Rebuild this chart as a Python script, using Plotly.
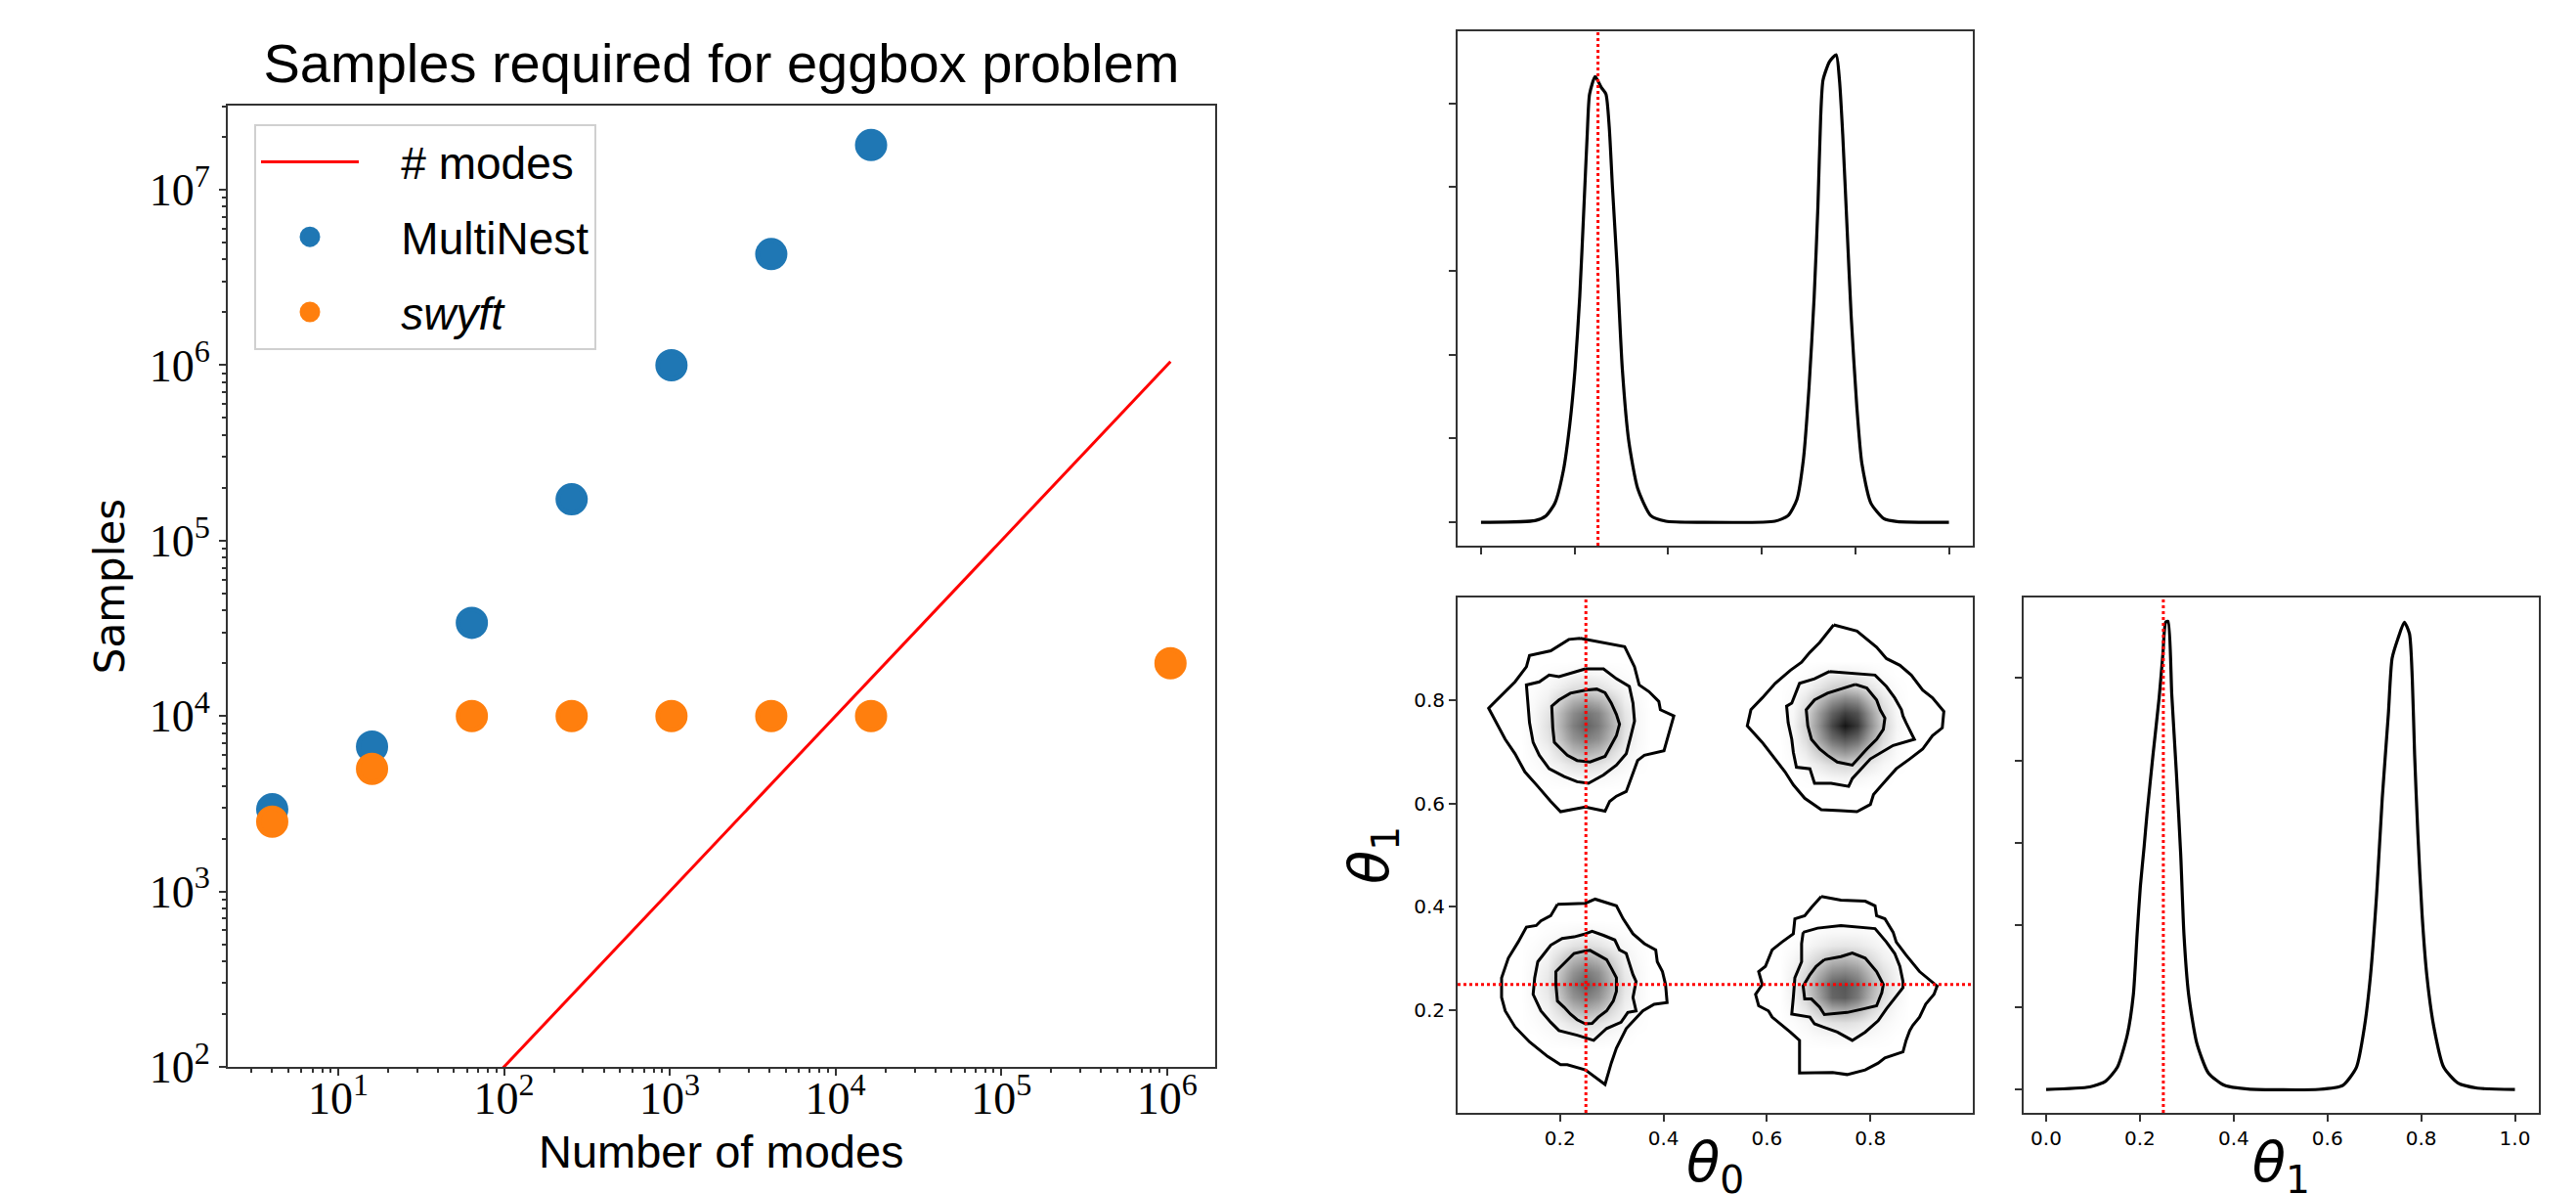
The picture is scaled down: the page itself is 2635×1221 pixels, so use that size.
import numpy as np
import plotly.graph_objects as go

# ---------------- left panel data ----------------
modes = [4, 16, 64, 256, 1024, 4096, 16384, 1048576]
multinest = [2940, 6700, 34000, 172000, 1000000, 4300000, 18000000]
swyft = [2500, 5000, 10000, 10000, 10000, 10000, 10000, 20000]
n_modes_line = [4, 16, 64, 256, 1024, 4096, 16384, 1048576]

y_tick_vals = [1e2, 1e3, 1e4, 1e5, 1e6, 1e7]
y_tick_text = ["10<sup>2</sup>", "10<sup>3</sup>", "10<sup>4</sup>", "10<sup>5</sup>", "10<sup>6</sup>", "10<sup>7</sup>"]
x_tick_vals = [1e1, 1e2, 1e3, 1e4, 1e5, 1e6]
x_tick_text = ["10<sup>1</sup>", "10<sup>2</sup>", "10<sup>3</sup>", "10<sup>4</sup>", "10<sup>5</sup>", "10<sup>6</sup>"]

# ---------------- corner plot data ----------------
truth = [0.25, 0.25]

theta0_x = [0.0, 0.1156, 0.139, 0.158, 0.176, 0.190, 0.201, 0.211, 0.220, 0.227, 0.232, 0.244, 0.257, 0.267,
            0.274, 0.281, 0.291, 0.302, 0.316, 0.335, 0.363, 0.395, 0.47, 0.628, 0.656, 0.675, 0.689, 0.701,
            0.712, 0.720, 0.726, 0.731, 0.745, 0.759, 0.766, 0.773, 0.782, 0.791, 0.803, 0.814, 0.833, 0.861,
            0.889, 1.0]
theta0_y = [0.0, 0.02, 0.078, 0.229, 0.617, 1.18, 1.83, 2.69, 3.77, 4.63, 5.11, 5.32, 5.19, 5.11,
            4.72, 3.99, 3.04, 1.83, 0.96, 0.40, 0.078, 0.013, 0.0, 0.013, 0.078, 0.27, 0.75, 1.61,
            2.69, 3.77, 4.85, 5.28, 5.50, 5.58, 5.28, 4.63, 3.55, 2.47, 1.39, 0.70, 0.23, 0.043,
            0.009, 0.0]

theta1_x = [0.0, 0.093, 0.127, 0.152, 0.173, 0.186, 0.194, 0.201, 0.209, 0.215, 0.228, 0.241, 0.249, 0.255,
            0.260, 0.268, 0.278, 0.287, 0.294, 0.304, 0.321, 0.346, 0.380, 0.430, 0.582, 0.633, 0.662, 0.679,
            0.692, 0.705, 0.717, 0.730, 0.738, 0.751, 0.764, 0.775, 0.781, 0.786, 0.793, 0.802, 0.812, 0.827,
            0.848, 0.878, 0.920, 1.0]
theta1_y = [0.0, 0.03, 0.10, 0.27, 0.66, 1.15, 1.88, 2.47, 2.95, 3.34, 4.07, 4.76, 5.29, 5.68,
            5.69, 4.80, 3.83, 2.86, 1.88, 1.15, 0.57, 0.20, 0.05, 0.005, 0.0, 0.05, 0.27, 0.76,
            1.39, 2.37, 3.54, 4.56, 5.24, 5.49, 5.68, 5.54, 5.0, 4.07, 3.10, 2.12, 1.39, 0.76,
            0.27, 0.08, 0.015, 0.0]

# density patches (9x9, rows from high theta1 to low, step 0.025) around each mode
blob_centers = [(0.25, 0.75), (0.75, 0.75), (0.25, 0.25), (0.75, 0.25)]
patch_tl = [
    [0, 0.01, 0.02, 0.03, 0.04, 0.03, 0.02, 0.01, 0],
    [0.01, 0.03, 0.07, 0.12, 0.14, 0.12, 0.07, 0.03, 0.01],
    [0.02, 0.06, 0.18, 0.30, 0.35, 0.30, 0.18, 0.06, 0.02],
    [0.03, 0.10, 0.28, 0.45, 0.55, 0.48, 0.28, 0.10, 0.03],
    [0.03, 0.12, 0.30, 0.50, 0.62, 0.52, 0.32, 0.12, 0.03],
    [0.03, 0.10, 0.25, 0.42, 0.50, 0.44, 0.27, 0.10, 0.03],
    [0.02, 0.05, 0.14, 0.27, 0.32, 0.27, 0.14, 0.05, 0.02],
    [0.01, 0.03, 0.06, 0.11, 0.13, 0.11, 0.06, 0.03, 0.01],
    [0, 0.01, 0.02, 0.03, 0.04, 0.03, 0.02, 0.01, 0]]
patch_tr = [
    [0, 0.01, 0.03, 0.05, 0.06, 0.05, 0.03, 0.01, 0],
    [0.01, 0.04, 0.10, 0.18, 0.22, 0.18, 0.10, 0.04, 0.01],
    [0.02, 0.10, 0.25, 0.42, 0.50, 0.45, 0.25, 0.10, 0.02],
    [0.03, 0.15, 0.38, 0.62, 0.75, 0.68, 0.40, 0.15, 0.03],
    [0.04, 0.18, 0.42, 0.72, 0.92, 0.78, 0.45, 0.18, 0.04],
    [0.03, 0.14, 0.35, 0.58, 0.68, 0.60, 0.35, 0.14, 0.03],
    [0.02, 0.08, 0.20, 0.35, 0.42, 0.35, 0.20, 0.08, 0.02],
    [0.01, 0.03, 0.08, 0.14, 0.16, 0.14, 0.08, 0.03, 0.01],
    [0, 0.01, 0.02, 0.04, 0.05, 0.04, 0.02, 0.01, 0]]
patch_bl = [
    [0, 0.01, 0.02, 0.03, 0.04, 0.03, 0.02, 0.01, 0],
    [0.01, 0.03, 0.06, 0.11, 0.13, 0.11, 0.06, 0.03, 0.01],
    [0.02, 0.05, 0.16, 0.28, 0.34, 0.28, 0.16, 0.05, 0.02],
    [0.03, 0.08, 0.24, 0.42, 0.52, 0.44, 0.24, 0.08, 0.03],
    [0.03, 0.10, 0.29, 0.50, 0.62, 0.50, 0.29, 0.10, 0.03],
    [0.03, 0.08, 0.24, 0.42, 0.50, 0.42, 0.24, 0.08, 0.03],
    [0.02, 0.05, 0.14, 0.26, 0.32, 0.26, 0.14, 0.05, 0.02],
    [0.01, 0.03, 0.06, 0.11, 0.13, 0.11, 0.06, 0.03, 0.01],
    [0, 0.01, 0.02, 0.03, 0.04, 0.03, 0.02, 0.01, 0]]
patch_br = [
    [0, 0.01, 0.02, 0.03, 0.03, 0.03, 0.02, 0.01, 0],
    [0.01, 0.03, 0.06, 0.09, 0.10, 0.09, 0.06, 0.03, 0.01],
    [0.03, 0.08, 0.16, 0.26, 0.28, 0.24, 0.14, 0.06, 0.02],
    [0.05, 0.14, 0.30, 0.45, 0.48, 0.42, 0.26, 0.12, 0.04],
    [0.06, 0.18, 0.40, 0.62, 0.66, 0.55, 0.34, 0.15, 0.05],
    [0.05, 0.16, 0.36, 0.60, 0.64, 0.52, 0.30, 0.13, 0.04],
    [0.03, 0.09, 0.20, 0.32, 0.34, 0.28, 0.16, 0.07, 0.02],
    [0.01, 0.03, 0.07, 0.11, 0.12, 0.10, 0.06, 0.03, 0.01],
    [0, 0.01, 0.02, 0.03, 0.03, 0.03, 0.02, 0.01, 0]]
patches = [patch_tl, patch_tr, patch_bl, patch_br]

# contour polygons (theta0, theta1), three levels per mode
tl_outer_x = [0.239, 0.325, 0.344, 0.353, 0.372, 0.391, 0.394, 0.420, 0.401, 0.363, 0.350, 0.328, 0.309, 0.296, 0.287, 0.249, 0.201, 0.182, 0.157, 0.132, 0.113, 0.094, 0.062, 0.094, 0.113, 0.135, 0.141, 0.182, 0.217]
tl_outer_y = [0.919, 0.903, 0.864, 0.829, 0.816, 0.797, 0.781, 0.769, 0.702, 0.693, 0.683, 0.623, 0.614, 0.604, 0.585, 0.593, 0.584, 0.604, 0.633, 0.661, 0.696, 0.724, 0.784, 0.816, 0.835, 0.864, 0.886, 0.895, 0.917]
tl_mid_x = [0.249, 0.284, 0.309, 0.334, 0.341, 0.344, 0.337, 0.328, 0.309, 0.284, 0.255, 0.233, 0.208, 0.179, 0.160, 0.148, 0.141, 0.138, 0.135, 0.160, 0.179, 0.198, 0.220]
tl_mid_y = [0.860, 0.860, 0.841, 0.826, 0.794, 0.759, 0.731, 0.696, 0.674, 0.655, 0.639, 0.642, 0.652, 0.667, 0.693, 0.718, 0.756, 0.794, 0.829, 0.835, 0.848, 0.845, 0.851]
tl_in_x = [0.249, 0.271, 0.287, 0.299, 0.309, 0.315, 0.309, 0.299, 0.287, 0.258, 0.233, 0.214, 0.201, 0.189, 0.186, 0.184, 0.198, 0.220]
tl_in_y = [0.819, 0.821, 0.814, 0.794, 0.772, 0.753, 0.731, 0.712, 0.691, 0.680, 0.683, 0.693, 0.705, 0.718, 0.746, 0.788, 0.800, 0.813]

tr_outer_x = [0.729, 0.774, 0.812, 0.831, 0.857, 0.879, 0.901, 0.920, 0.942, 0.939, 0.920, 0.901, 0.876, 0.850, 0.825, 0.806, 0.800, 0.774, 0.743, 0.705, 0.673, 0.651, 0.635, 0.616, 0.591, 0.562, 0.569, 0.591, 0.616, 0.645, 0.667, 0.683, 0.702]
tr_outer_y = [0.945, 0.933, 0.902, 0.880, 0.867, 0.848, 0.819, 0.804, 0.778, 0.746, 0.731, 0.705, 0.686, 0.667, 0.639, 0.617, 0.598, 0.584, 0.586, 0.588, 0.610, 0.636, 0.661, 0.686, 0.718, 0.750, 0.781, 0.804, 0.832, 0.857, 0.873, 0.892, 0.911]
tr_mid_x = [0.721, 0.765, 0.809, 0.831, 0.847, 0.860, 0.863, 0.869, 0.885, 0.844, 0.800, 0.765, 0.758, 0.724, 0.692, 0.683, 0.657, 0.651, 0.648, 0.641, 0.638, 0.648, 0.663, 0.692]
tr_mid_y = [0.855, 0.852, 0.848, 0.826, 0.804, 0.781, 0.769, 0.756, 0.724, 0.712, 0.686, 0.648, 0.633, 0.639, 0.639, 0.667, 0.670, 0.699, 0.724, 0.756, 0.788, 0.794, 0.832, 0.841]
tr_in_x = [0.771, 0.793, 0.812, 0.819, 0.828, 0.825, 0.812, 0.793, 0.765, 0.736, 0.717, 0.702, 0.686, 0.679, 0.676, 0.692, 0.717, 0.749]
tr_in_y = [0.830, 0.823, 0.800, 0.781, 0.765, 0.743, 0.724, 0.705, 0.674, 0.680, 0.693, 0.705, 0.724, 0.750, 0.781, 0.800, 0.813, 0.823]

bl_outer_x = [0.195, 0.249, 0.268, 0.309, 0.322, 0.341, 0.363, 0.385, 0.388, 0.398, 0.404, 0.407, 0.382, 0.360, 0.328, 0.309, 0.299, 0.287, 0.249, 0.214, 0.201, 0.176, 0.141, 0.113, 0.094, 0.087, 0.087, 0.100, 0.119, 0.135, 0.154, 0.163, 0.182, 0.192]
bl_outer_y = [0.405, 0.407, 0.415, 0.402, 0.377, 0.348, 0.329, 0.317, 0.294, 0.275, 0.250, 0.215, 0.212, 0.199, 0.165, 0.127, 0.098, 0.057, 0.085, 0.095, 0.095, 0.111, 0.139, 0.168, 0.199, 0.225, 0.263, 0.301, 0.332, 0.361, 0.364, 0.373, 0.383, 0.402]
bl_mid_x = [0.249, 0.262, 0.284, 0.306, 0.315, 0.328, 0.334, 0.341, 0.347, 0.344, 0.341, 0.347, 0.331, 0.318, 0.290, 0.265, 0.233, 0.198, 0.182, 0.163, 0.148, 0.151, 0.157, 0.182, 0.204, 0.227]
bl_mid_y = [0.348, 0.353, 0.345, 0.336, 0.317, 0.310, 0.291, 0.269, 0.256, 0.241, 0.225, 0.199, 0.196, 0.177, 0.165, 0.142, 0.152, 0.161, 0.177, 0.199, 0.231, 0.263, 0.294, 0.326, 0.339, 0.342]
bl_in_x = [0.249, 0.258, 0.274, 0.290, 0.299, 0.309, 0.309, 0.303, 0.290, 0.274, 0.262, 0.249, 0.233, 0.220, 0.208, 0.195, 0.192, 0.192, 0.211, 0.227]
bl_in_y = [0.315, 0.316, 0.307, 0.298, 0.282, 0.263, 0.237, 0.218, 0.199, 0.187, 0.175, 0.174, 0.182, 0.193, 0.206, 0.218, 0.250, 0.275, 0.294, 0.310]

br_outer_x = [0.705, 0.743, 0.790, 0.809, 0.812, 0.828, 0.844, 0.850, 0.869, 0.895, 0.929, 0.923, 0.907, 0.895, 0.882, 0.876, 0.869, 0.863, 0.828, 0.815, 0.790, 0.755, 0.727, 0.663, 0.663, 0.645, 0.610, 0.603, 0.584, 0.578, 0.591, 0.584, 0.597, 0.610, 0.629, 0.651, 0.654, 0.673, 0.686]
br_outer_y = [0.420, 0.413, 0.411, 0.402, 0.383, 0.377, 0.351, 0.332, 0.307, 0.275, 0.247, 0.231, 0.212, 0.187, 0.171, 0.161, 0.142, 0.120, 0.108, 0.098, 0.085, 0.076, 0.080, 0.079, 0.142, 0.158, 0.187, 0.199, 0.209, 0.231, 0.250, 0.275, 0.285, 0.317, 0.332, 0.348, 0.377, 0.383, 0.399]
br_mid_x = [0.670, 0.698, 0.743, 0.809, 0.831, 0.847, 0.857, 0.863, 0.863, 0.850, 0.831, 0.815, 0.790, 0.765, 0.736, 0.708, 0.692, 0.683, 0.648, 0.651, 0.654, 0.667, 0.667]
br_mid_y = [0.351, 0.359, 0.364, 0.358, 0.332, 0.310, 0.285, 0.256, 0.244, 0.228, 0.203, 0.180, 0.158, 0.142, 0.158, 0.168, 0.174, 0.187, 0.193, 0.225, 0.263, 0.294, 0.329]
br_in_x = [0.711, 0.743, 0.765, 0.790, 0.812, 0.825, 0.822, 0.812, 0.787, 0.755, 0.711, 0.702, 0.686, 0.673, 0.670, 0.683, 0.695]
br_in_y = [0.298, 0.304, 0.311, 0.301, 0.275, 0.250, 0.234, 0.209, 0.203, 0.196, 0.192, 0.206, 0.222, 0.222, 0.247, 0.269, 0.285]

contours = [
    (tl_outer_x, tl_outer_y), (tl_mid_x, tl_mid_y), (tl_in_x, tl_in_y),
    (tr_outer_x, tr_outer_y), (tr_mid_x, tr_mid_y), (tr_in_x, tr_in_y),
    (bl_outer_x, bl_outer_y), (bl_mid_x, bl_mid_y), (bl_in_x, bl_in_y),
    (br_outer_x, br_outer_y), (br_mid_x, br_mid_y), (br_in_x, br_in_y),
]

# ---------------- build density grid ----------------
step = 0.025
grid = np.round(np.arange(0, 41) * step, 4)
z = np.zeros((41, 41))
for (cx, cy), patch in zip(blob_centers, patches):
    ci = int(round(cx / step))
    cj = int(round(cy / step))
    for r, row in enumerate(patch):
        for c, v in enumerate(row):
            z[cj + 4 - r, ci - 4 + c] = v

W, H = 2635, 1221
AX = "#333333"
NB = "\u00a0\u00a0\u00a0"
fig = go.Figure()

# left panel
fig.add_trace(go.Scatter(x=modes, y=n_modes_line, mode="lines", name=NB + "# modes",
                         line=dict(color="red", width=3), legendgroup="a",
                         xaxis="x", yaxis="y"))
fig.add_trace(go.Scatter(x=modes[:len(multinest)], y=multinest, mode="markers", name=NB + "MultiNest",
                         marker=dict(color="#1f77b4", size=28, line=dict(width=5, color="#1f77b4")),
                         legendgroup="b", xaxis="x", yaxis="y"))
fig.add_trace(go.Scatter(x=modes, y=swyft, mode="markers", name=NB + "<i>swyft</i>",
                         marker=dict(color="#ff7f0e", size=28, line=dict(width=5, color="#ff7f0e")),
                         legendgroup="c", xaxis="x", yaxis="y"))

# top marginal
fig.add_trace(go.Scatter(x=theta0_x, y=theta0_y, mode="lines",
                         line=dict(color="black", width=3.2, shape="spline", smoothing=0.6),
                         showlegend=False, xaxis="x2", yaxis="y2"))
# 2D density
fig.add_trace(go.Heatmap(x=grid, y=grid, z=z, zmin=0, zmax=1, zsmooth="best",
                         colorscale=[[0, "#ffffff"], [1, "#000000"]], showscale=False,
                         xaxis="x3", yaxis="y3", hoverinfo="skip"))
for cxs, cys in contours:
    fig.add_trace(go.Scatter(x=list(cxs) + [cxs[0]], y=list(cys) + [cys[0]], mode="lines",
                             line=dict(color="black", width=3), showlegend=False,
                             xaxis="x3", yaxis="y3"))
# right marginal
fig.add_trace(go.Scatter(x=theta1_x, y=theta1_y, mode="lines",
                         line=dict(color="black", width=3.2, shape="spline", smoothing=0.6),
                         showlegend=False, xaxis="x4", yaxis="y4"))

# truth lines
dot = dict(color="red", width=3, dash="dot")
fig.add_shape(type="line", xref="x2", yref="y2 domain", x0=truth[0], x1=truth[0], y0=0, y1=1, line=dot)
fig.add_shape(type="line", xref="x3", yref="y3 domain", x0=truth[0], x1=truth[0], y0=0, y1=1, line=dot)
fig.add_shape(type="line", xref="x3 domain", yref="y3", x0=0, x1=1, y0=truth[1], y1=truth[1], line=dot)
fig.add_shape(type="line", xref="x4", yref="y4 domain", x0=truth[1], x1=truth[1], y0=0, y1=1, line=dot)

# x-axis label of the left panel, placed just under the tick labels
fig.add_annotation(text="Number of modes", xref="x domain", yref="y domain", x=0.5, y=-0.088,
                   xanchor="center", yanchor="middle", showarrow=False,
                   font=dict(family="Liberation Sans, Arial, sans-serif", size=47, color="black"))

minor_vals = [m * 10 ** k for k in range(0, 8) for m in range(2, 10)]

def frame(**kw):
    d = dict(showline=True, linecolor=AX, linewidth=2, mirror=True, ticks="outside",
             ticklen=7, tickwidth=2, tickcolor=AX, showgrid=False, zeroline=False,
             automargin=False)
    d.update(kw)
    return d

serif = dict(family="Liberation Serif, DejaVu Serif, serif", size=46, color="black")
small = dict(family="DejaVu Sans, sans-serif", size=20, color="black")
theta_font = dict(family="DejaVu Sans, sans-serif", size=56, color="black")

fig.update_layout(
    template="none",
    width=W, height=H, margin=dict(l=0, r=0, t=0, b=0, autoexpand=False),
    paper_bgcolor="white", plot_bgcolor="white",
    title=dict(text="Samples required for eggbox problem", x=730 / W, xanchor="center",
               y=0.9535, yanchor="middle", yref="container",
               font=dict(family="Liberation Sans, Arial, sans-serif", size=56, color="black")),
    xaxis=frame(domain=[225 / W, 1235 / W], type="log", range=[0.334, 6.29], anchor="y",
                tickmode="array", tickvals=x_tick_vals, ticktext=x_tick_text, tickfont=serif,
                ticklabelstandoff=-16,
                minor=dict(tickmode="array", tickvals=minor_vals, ticks="outside", ticklen=4,
                           tickwidth=1.5, tickcolor=AX, showgrid=False)),
    yaxis=frame(domain=[1 - 1083 / H, 1 - 100 / H], type="log", range=[2, 7.48], anchor="x",
                tickmode="array", tickvals=y_tick_vals, ticktext=y_tick_text, tickfont=serif,
                minor=dict(tickmode="array", tickvals=minor_vals, ticks="outside", ticklen=4,
                           tickwidth=1.5, tickcolor=AX, showgrid=False),
                title=dict(text="Samples", standoff=12,
                           font=dict(family="DejaVu Sans, sans-serif", size=42, color="black"))),
    xaxis2=frame(domain=[1483 / W, 2009.5 / W], range=[-0.05, 1.05], anchor="y2",
                 tickmode="array", tickvals=[0, 0.2, 0.4, 0.6, 0.8, 1.0], showticklabels=False),
    yaxis2=frame(domain=[1 - 550 / H, 1 - 24 / H], range=[-0.279, 5.86], anchor="x2",
                 tickmode="array", tickvals=[0, 1, 2, 3, 4, 5], showticklabels=False),
    xaxis3=frame(domain=[1483 / W, 2010 / W], range=[0.002, 0.998], anchor="y3",
                 tickmode="array", tickvals=[0.2, 0.4, 0.6, 0.8], ticktext=["0.2", "0.4", "0.6", "0.8"],
                 tickfont=small,
                 title=dict(text="<i>θ</i><sub>0</sub>", standoff=12, font=theta_font)),
    yaxis3=frame(domain=[1 - 1130 / H, 1 - 603 / H], range=[0.002, 0.998], anchor="x3",
                 tickmode="array", tickvals=[0.2, 0.4, 0.6, 0.8], ticktext=["0.2", "0.4", "0.6", "0.8"],
                 tickfont=small,
                 title=dict(text="<i>θ</i><sub>1</sub>", standoff=8, font=theta_font)),
    xaxis4=frame(domain=[2062 / W, 2588.5 / W], range=[-0.048, 1.05], anchor="y4",
                 tickmode="array", tickvals=[0, 0.2, 0.4, 0.6, 0.8, 1.0],
                 ticktext=["0.0", "0.2", "0.4", "0.6", "0.8", "1.0"], tickfont=small,
                 title=dict(text="<i>θ</i><sub>1</sub>", standoff=12, font=theta_font)),
    yaxis4=frame(domain=[1 - 1130 / H, 1 - 603 / H], range=[-0.285, 5.98], anchor="x4",
                 tickmode="array", tickvals=[0, 1, 2, 3, 4, 5], showticklabels=False),
    legend=dict(x=252 / W, y=1 - 119 / H, xanchor="left", yanchor="top",
                bgcolor="white", bordercolor="#d0d0d0", borderwidth=2,
                font=dict(family="Liberation Sans, Arial, sans-serif", size=46, color="black"),
                itemwidth=100, tracegroupgap=14),
    showlegend=True,
)

fig.write_html("out.html")
